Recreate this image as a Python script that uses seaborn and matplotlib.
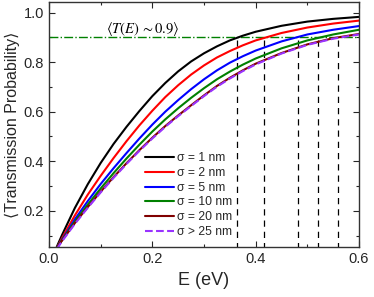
import numpy as np
import pandas as pd
import matplotlib
matplotlib.use("Agg")
import matplotlib.pyplot as plt
from matplotlib.ticker import MultipleLocator
import seaborn as sns

# energies (eV) and averaged transmission
energy = [0.015, 0.025, 0.05, 0.075, 0.10, 0.125, 0.15, 0.175, 0.20, 0.225, 0.25,
          0.275, 0.30, 0.325, 0.35, 0.375, 0.40, 0.45, 0.50, 0.55, 0.60]
t_1nm = [0.054, 0.101, 0.211, 0.307, 0.393, 0.470, 0.539, 0.603, 0.663, 0.716, 0.763,
         0.803, 0.836, 0.864, 0.888, 0.907, 0.923, 0.947, 0.964, 0.975, 0.983]
t_2nm = [0.049, 0.089, 0.181, 0.265, 0.341, 0.413, 0.481, 0.545, 0.604, 0.659, 0.707,
         0.750, 0.787, 0.819, 0.845, 0.868, 0.888, 0.918, 0.940, 0.956, 0.968]
t_5nm = [0.049, 0.083, 0.165, 0.239, 0.308, 0.372, 0.433, 0.492, 0.548, 0.600, 0.647,
         0.691, 0.731, 0.767, 0.798, 0.824, 0.847, 0.884, 0.912, 0.931, 0.946]
t_10nm = [0.049, 0.081, 0.156, 0.225, 0.290, 0.352, 0.411, 0.467, 0.520, 0.569, 0.614,
          0.656, 0.695, 0.731, 0.762, 0.790, 0.815, 0.856, 0.888, 0.912, 0.931]
t_20nm = [0.049, 0.079, 0.150, 0.215, 0.277, 0.336, 0.392, 0.445, 0.495, 0.542, 0.585,
          0.626, 0.666, 0.704, 0.737, 0.767, 0.794, 0.837, 0.872, 0.897, 0.914]
t_25nm = [0.045, 0.076, 0.147, 0.212, 0.274, 0.333, 0.389, 0.442, 0.492, 0.539, 0.582,
          0.623, 0.663, 0.701, 0.734, 0.764, 0.791, 0.835, 0.870, 0.895, 0.912]

labels = ["σ = 1 nm", "σ = 2 nm", "σ = 5 nm", "σ = 10 nm", "σ = 20 nm", "σ > 25 nm"]
colors = ["black", "#ff0000", "#0000ff", "#008000", "#800000", "#9933ff"]

# energies where each curve reaches 0.9
e_cross = [0.3645, 0.416, 0.481, 0.521, 0.560]
t_level = 0.9

sns.set_style("ticks")
plt.rcParams["font.family"] = ["Liberation Sans", "DejaVu Sans"]
plt.rcParams["mathtext.fontset"] = "stix"

fig = plt.figure(figsize=(3.74, 2.97), dpi=100)
ax = fig.add_axes([0.131, 0.167, 0.829, 0.827])

series = [t_1nm, t_2nm, t_5nm, t_10nm, t_20nm, t_25nm]
for vals, lab, col in zip(series, labels, colors):
    ls = "--" if lab.startswith("σ >") else "-"
    sns.lineplot(x=energy, y=vals, ax=ax, color=col, label=lab, linewidth=1.5, linestyle=ls)

ax.axhline(t_level, color="#008000", linestyle="-.", linewidth=1.0, zorder=1)
for e in e_cross:
    ax.plot([e, e], [0.0, t_level], color="black", linestyle=(0, (5, 4)), linewidth=0.9, zorder=1)

ax.text(0.11, 0.918, r"$\langle T(E)\,\sim 0.9\rangle$", fontsize=10.5, color="black")

ax.set_xlim(0, 0.6)
ax.set_ylim(0.052, 1.044)
ax.xaxis.set_major_locator(MultipleLocator(0.2))
ax.xaxis.set_minor_locator(MultipleLocator(0.1))
ax.yaxis.set_major_locator(MultipleLocator(0.2))
ax.yaxis.set_minor_locator(MultipleLocator(0.1))
ax.tick_params(which="both", direction="in", top=True, right=True, labelsize=10.5, width=0.8)
ax.tick_params(which="major", length=4)
ax.tick_params(which="minor", length=2.5)
for s in ax.spines.values():
    s.set_linewidth(1.0)
    s.set_color("#333333")

ax.set_xlabel("E (eV)", fontsize=13, labelpad=4)
ax.set_ylabel("⟨Transmission Probability⟩", fontsize=11.5, labelpad=3)

ax.legend(loc="lower left", bbox_to_anchor=(0.28, 0.0), frameon=False, fontsize=8.7,
          handlelength=2.4, handletextpad=0.2, labelspacing=0.22, borderpad=0.3)

fig.savefig("out.png", dpi=100)
